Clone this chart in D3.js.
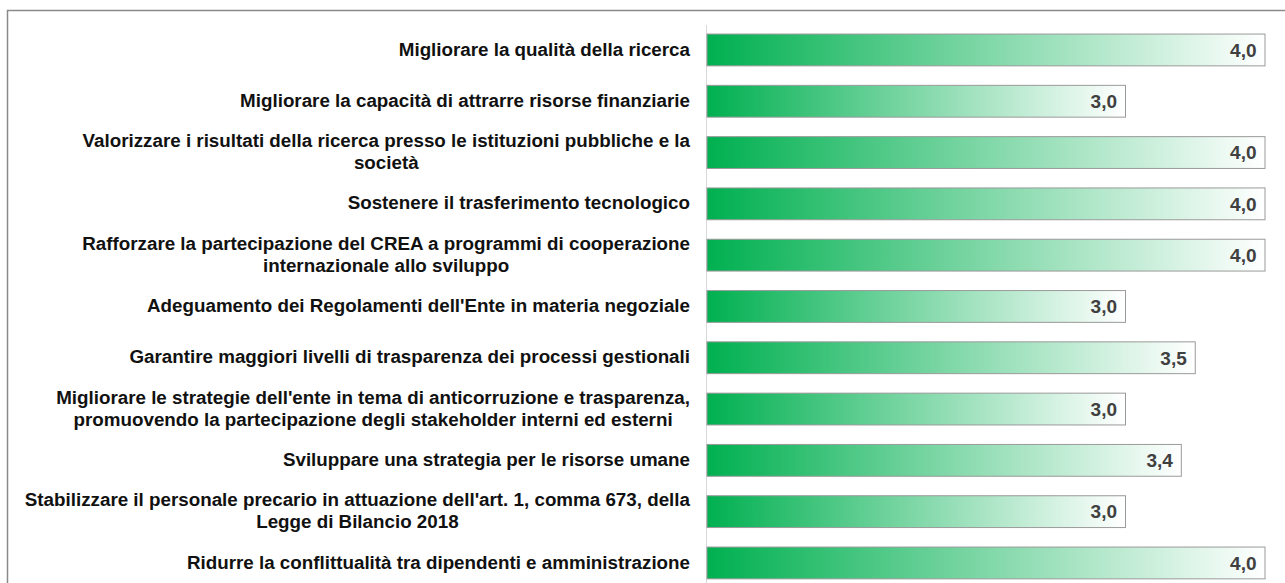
<!DOCTYPE html>
<html>
<head>
<meta charset="utf-8">
<script src="https://cdn.jsdelivr.net/npm/d3@7"></script>
<style>
  body { margin: 0; background: #fff; }
  svg { display: block; }
  .cat { font-family: "Liberation Sans", Arial, sans-serif; font-size: 18.8px; font-weight: bold; fill: #111; }
  .val { font-family: "Liberation Sans", Arial, sans-serif; font-size: 19px; font-weight: bold; fill: #404040; }
</style>
</head>
<body>
<div id="chart"></div>
<script>
// categories (line breaks as in the original labels)
var categories = [
    "Migliorare la qualità della ricerca",
    "Migliorare la capacità di attrarre risorse finanziarie",
    "Valorizzare i risultati della ricerca presso le istituzioni pubbliche e la\nsocietà",
    "Sostenere il trasferimento tecnologico",
    "Rafforzare la partecipazione del CREA a programmi di cooperazione\ninternazionale allo sviluppo",
    "Adeguamento dei Regolamenti dell'Ente in materia negoziale",
    "Garantire maggiori livelli di trasparenza dei processi gestionali",
    "Migliorare le strategie dell'ente in tema di anticorruzione e trasparenza,\npromuovendo la partecipazione degli stakeholder interni ed esterni",
    "Sviluppare una strategia per le risorse umane",
    "Stabilizzare il personale precario in attuazione dell'art. 1, comma 673, della\nLegge di Bilancio 2018",
    "Ridurre la conflittualità tra dipendenti e amministrazione"
];
var values = [4.0, 3.0, 4.0, 4.0, 4.0, 3.0, 3.5, 3.0, 3.4, 3.0, 4.0];
var xMax = 4;

var svgWidth = 1285;
var svgHeight = 583;

var margin = { top: 24.3, left: 707 };
var plotRight = 1265;
var plotBottom = 588.6;
var labelRight = 690;

var svg = d3.select("#chart")
    .append("svg")
    .attr("width", svgWidth)
    .attr("height", svgHeight);

// outer frame (continues past the picture edge)
svg.append("rect")
    .attr("x", 7.5)
    .attr("y", 10.5)
    .attr("width", svgWidth)
    .attr("height", svgHeight)
    .attr("fill", "none")
    .attr("stroke", "#8a8a8a")
    .attr("stroke-width", 1.5);

var grad = svg.append("defs").append("linearGradient")
    .attr("id", "barGrad")
    .attr("x1", "0%").attr("x2", "100%")
    .attr("y1", "0%").attr("y2", "0%");
grad.append("stop").attr("offset", "0%").attr("stop-color", "#00b050");
grad.append("stop").attr("offset", "100%").attr("stop-color", "#ffffff");

var xScale = d3.scaleLinear()
    .domain([0, xMax])
    .range([margin.left, plotRight]);

var yScale = d3.scaleBand()
    .domain(d3.range(categories.length))
    .range([margin.top, plotBottom])
    .paddingInner(0.38)
    .paddingOuter(0.19);

// category axis line
svg.append("line")
    .attr("x1", margin.left - 0.5)
    .attr("x2", margin.left - 0.5)
    .attr("y1", 25)
    .attr("y2", svgHeight)
    .attr("stroke", "#d9d9d9")
    .attr("stroke-width", 1);

var barGroup = svg.selectAll(".bar")
    .data(values)
    .enter()
    .append("g")
    .attr("class", "bar");

barGroup.append("rect")
    .attr("x", xScale(0))
    .attr("y", (d, i) => yScale(i))
    .attr("width", d => xScale(d) - xScale(0))
    .attr("height", yScale.bandwidth())
    .attr("fill", "url(#barGrad)")
    .attr("stroke", "#9a9a9a")
    .attr("stroke-width", 1);

barGroup.append("text")
    .attr("class", "val")
    .attr("x", d => xScale(d) - 8.5)
    .attr("y", (d, i) => yScale(i) + yScale.bandwidth() / 2)
    .attr("dy", "0.36em")
    .attr("text-anchor", "end")
    .text(d => d.toFixed(1).replace(".", ","));

// category labels: block right aligned, lines centred on each other
var lineHeight = 22;
svg.selectAll(".cat")
    .data(categories)
    .enter()
    .append("text")
    .attr("class", "cat")
    .attr("text-anchor", "middle")
    .each(function(d, i) {
        var lines = d.split("\n");
        var cy = yScale(i) + yScale.bandwidth() / 2;
        var t = d3.select(this);
        var spans = lines.map(function(line, k) {
            return t.append("tspan")
                .attr("y", cy + (k - (lines.length - 1) / 2) * lineHeight)
                .attr("dy", "0.3em")
                .text(line);
        });
        var maxW = d3.max(spans, s => s.node().getComputedTextLength());
        spans.forEach(s => s.attr("x", labelRight - maxW / 2));
    });
</script>
</body>
</html>
